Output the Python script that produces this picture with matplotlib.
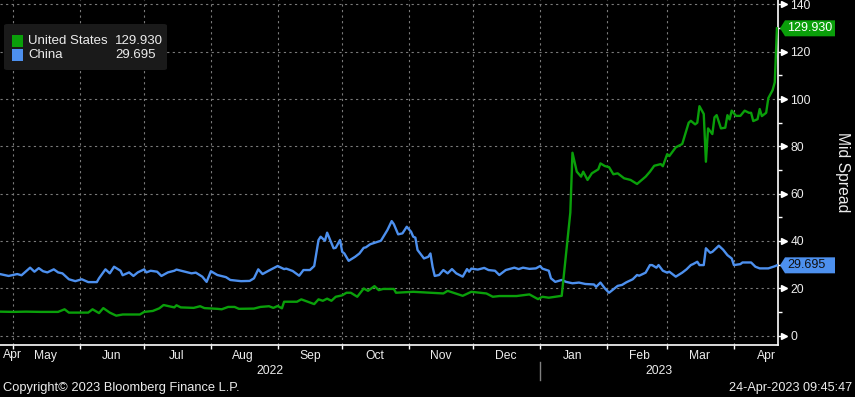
import numpy as np
import pandas as pd
import matplotlib
matplotlib.use("Agg")
import matplotlib.pyplot as plt
import matplotlib.dates as mdates
from matplotlib.ticker import MultipleLocator
from matplotlib.patches import FancyBboxPatch, Rectangle, Polygon
from matplotlib.transforms import blended_transform_factory

plt.rcParams['font.family'] = ['Liberation Sans', 'DejaVu Sans']

# data, days counted from start date
start = pd.Timestamp('2022-04-25')

us_day = [0, 6, 12, 19, 27, 30, 32, 41, 43, 46, 48, 51, 54, 57, 65, 67, 71, 74, 76, 81,
          82, 84, 90, 93, 95, 101, 103, 106, 109, 111, 118, 121, 125, 127, 129, 131, 132, 138, 140, 146,
          148, 150, 152, 154, 156, 159, 161, 163, 166, 169, 171, 174, 176, 178, 183, 184, 192, 206, 208, 215,
          219, 226, 229, 232, 240, 246, 250, 252, 255, 261, 265, 266, 268, 270, 271, 273, 275, 278, 279, 281,
          283, 285, 287, 290, 293, 296, 300, 302, 304, 307, 308, 310, 311, 314, 317, 320, 321, 323, 324, 325,
          327, 328, 329, 331, 332, 333, 335, 337, 338, 339, 340, 342, 344, 346, 348, 349, 350, 352, 353, 354,
          356, 357, 359, 360, 361]
us_val = [10.1, 10.0, 10.1, 10.0, 10.0, 11.1, 9.7, 9.7, 11.1, 9.5, 11.6, 9.7, 8.4, 8.9, 8.9, 10.0, 10.4, 11.5, 12.9, 11.9,
          12.8, 11.9, 11.7, 12.4, 11.6, 11.3, 11.1, 12.1, 12.1, 11.3, 11.4, 12.1, 12.4, 11.7, 12.5, 11.5, 14.3, 14.3, 15.3, 13.3,
          15.3, 14.7, 15.6, 14.7, 16.4, 17.0, 18.1, 18.1, 16.4, 19.9, 18.9, 20.9, 19.2, 19.7, 19.7, 18.1, 18.5, 17.8, 18.9, 16.8,
          18.5, 17.8, 16.4, 16.7, 16.7, 17.4, 15.4, 16.4, 16.0, 16.8, 52.0, 77.3, 69.3, 67.2, 69.3, 65.8, 68.6, 70.3, 72.8, 71.7,
          71.2, 68.2, 68.6, 66.5, 65.8, 64.1, 67.2, 69.3, 71.8, 72.5, 71.6, 76.7, 75.9, 79.6, 81.0, 90.0, 90.8, 89.3, 90.0, 97.0,
          93.7, 73.5, 87.6, 85.2, 92.3, 93.2, 87.6, 87.9, 93.2, 91.4, 95.1, 92.9, 92.9, 95.1, 94.2, 94.2, 90.7, 91.5, 95.8, 92.8,
          94.2, 100.4, 103.8, 107.1, 129.93]

cn_day = [0, 4, 8, 10, 14, 16, 18, 20, 22, 25, 27, 29, 32, 35, 38, 41, 45, 46, 49, 51,
          53, 56, 57, 60, 62, 64, 67, 68, 70, 73, 75, 78, 81, 82, 86, 89, 91, 94, 96, 98,
          101, 105, 107, 112, 116, 118, 120, 122, 125, 129, 132, 133, 136, 139, 141, 144, 146, 148, 149, 151,
          152, 155, 156, 158, 159, 160, 162, 165, 167, 169, 170, 172, 174, 177, 180, 182, 183, 185, 187, 189,
          191, 192, 193, 194, 197, 199, 200, 201, 202, 204, 206, 208, 210, 212, 215, 217, 218, 219, 222, 225,
          227, 230, 232, 235, 239, 241, 243, 246, 249, 251, 252, 255, 256, 258, 261, 263, 266, 269, 272, 276,
          277, 279, 281, 283, 287, 289, 291, 294, 296, 297, 300, 302, 303, 305, 306, 308, 310, 311, 314, 317,
          319, 321, 322, 324, 325, 327, 328, 330, 331, 334, 336, 338, 340, 341, 344, 345, 349, 351, 353, 357,
          360, 361]
cn_val = [26.0, 25.2, 26.0, 25.5, 28.7, 27.0, 28.5, 27.2, 26.7, 28.0, 26.7, 26.3, 23.8, 23.0, 23.8, 22.6, 22.6, 24.2, 28.0, 26.3,
          29.1, 27.4, 25.5, 26.7, 25.2, 26.7, 28.0, 26.7, 27.4, 27.0, 25.2, 26.7, 27.4, 27.9, 27.0, 26.3, 26.6, 24.9, 22.7, 27.2,
          25.6, 24.7, 23.5, 23.0, 23.1, 24.2, 28.0, 26.0, 27.5, 29.4, 28.1, 28.3, 27.3, 25.3, 27.7, 27.7, 29.4, 40.4, 41.8, 40.1,
          43.5, 36.9, 37.1, 40.4, 35.4, 34.7, 31.6, 33.3, 34.7, 37.1, 37.3, 38.6, 39.2, 40.1, 44.6, 48.4, 47.1, 42.8, 43.2, 46.0,
          43.9, 41.8, 41.4, 36.2, 32.6, 33.3, 34.7, 29.1, 25.2, 25.6, 27.7, 26.3, 28.1, 26.3, 24.9, 28.1, 27.0, 28.3, 27.9, 28.6,
          27.7, 27.4, 25.6, 27.7, 28.7, 28.1, 28.7, 28.2, 28.4, 29.4, 28.3, 27.4, 24.2, 22.7, 23.5, 22.7, 22.1, 22.4, 21.8, 21.6,
          20.6, 22.4, 20.0, 18.1, 21.0, 21.4, 22.5, 23.8, 25.6, 25.3, 26.6, 29.8, 29.8, 28.7, 29.8, 27.4, 26.6, 27.0, 24.9, 26.6,
          28.0, 29.8, 30.2, 31.2, 29.8, 29.8, 36.9, 35.0, 35.4, 38.0, 36.3, 34.0, 32.6, 29.8, 30.2, 30.9, 30.9, 29.1, 28.4, 28.4,
          29.3, 29.695]

names = ['United States', 'China']
last_vals = ['129.930', '29.695']
GREEN = '#0a9f0a'
BLUE = '#4d90ee'
TXT = '#ececec'
FS = 8.7

us_dates = start + pd.to_timedelta(us_day, unit='D')
cn_dates = start + pd.to_timedelta(cn_day, unit='D')

W, H = 855, 397
fig = plt.figure(figsize=(W / 100, H / 100), dpi=100, facecolor='black')
ax = fig.add_axes([0, 1 - 345 / H, 778 / W, 345 / H])
ax.set_facecolor('black')

ax.plot(cn_dates, cn_val, color=BLUE, lw=1.7, zorder=3)
ax.plot(us_dates, us_val, color=GREEN, lw=1.7, zorder=4)

x0 = mdates.date2num(start)
ax.set_xlim(x0, x0 + 361.5)
ax.set_ylim(-4.0, 141.9)

# x axis: month boundaries as ticks, names at mid month
ax.xaxis.set_major_locator(mdates.MonthLocator())
ax.xaxis.set_major_formatter(plt.NullFormatter())
ax.xaxis.set_minor_locator(mdates.MonthLocator(bymonthday=16))
ax.xaxis.set_minor_formatter(mdates.DateFormatter('%b'))
ax.tick_params(axis='x', which='major', length=3, color='white', width=1)
ax.tick_params(axis='x', which='minor', length=0, pad=3.5, labelsize=FS, labelcolor=TXT)

# y axis on the right
ax.yaxis.tick_right()
ax.yaxis.set_major_locator(MultipleLocator(20))
ax.yaxis.set_minor_locator(MultipleLocator(10))
ax.tick_params(axis='y', which='major', length=6, width=1, color='white', pad=3,
               labelsize=FS, labelcolor=TXT)
ax.tick_params(axis='y', which='minor', length=3, width=1, color='white')
yt = ax.get_yaxis_transform()
ax.plot([1.008] * 8, np.arange(0, 141, 20), ls='none', marker='>', ms=4.5,
        color='white', transform=yt, clip_on=False)

ax.grid(which='major', color='#7a7a7a', ls=(0, (2, 3)), lw=0.8)
for s in ['top', 'left']:
    ax.spines[s].set_visible(False)
for s in ['right', 'bottom']:
    ax.spines[s].set_color('white')
    ax.spines[s].set_linewidth(1.2)

ax.set_ylabel('Mid Spread', rotation=270, color=TXT, fontsize=11.3, labelpad=28)
ax.yaxis.set_label_position('right')

# first partial month and years
bt = blended_transform_factory(ax.transData, ax.transAxes)
ax.text(x0 + 1.2, -0.029, 'Apr', transform=bt, ha='left', va='center', fontsize=FS, color=TXT)
jan = mdates.date2num(pd.Timestamp('2023-01-01'))
xr = ax.get_xlim()
ax.text((xr[0] + jan) / 2, -0.075, '2022', transform=bt, ha='center', va='center', fontsize=FS, color=TXT)
ax.text((jan + xr[1]) / 2, -0.075, '2023', transform=bt, ha='center', va='center', fontsize=FS, color=TXT)
ax.plot([jan, jan], [-0.05, -0.1], transform=bt, color='#808080', lw=1, clip_on=False)

# end-value tags (arrow boxes right of the axis)
to_fig = ax.transData + fig.transFigure.inverted()
for val, txt, fc, tc in [(us_val[-1], last_vals[0], GREEN, 'white'), (cn_val[-1], last_vals[1], BLUE, '#101010')]:
    yf = to_fig.transform((x0, val))[1]
    hh = 8 / H
    pts = [(780 / W, yf), (785 / W, yf + hh), (835 / W, yf + hh), (835 / W, yf - hh), (785 / W, yf - hh)]
    fig.patches.append(Polygon(pts, closed=True, transform=fig.transFigure, fc=fc, ec='none', zorder=6))
    fig.text(787 / W, yf, txt, ha='left', va='center', fontsize=9, color=tc, zorder=7)

# legend box
fig.patches.append(FancyBboxPatch((4 / W, 1 - 70 / H), 163 / W, 46 / H,
                                  boxstyle='round,pad=0,rounding_size=0.004',
                                  transform=fig.transFigure, fc='#1a1a1a', ec='none', zorder=5))
for i, (nm, lv, c) in enumerate(zip(names, last_vals, [GREEN, BLUE])):
    yc = 40.7 + i * 14.6
    fig.patches.append(Rectangle((12 / W, 1 - (yc + 6) / H), 11 / W, 12 / H,
                                 transform=fig.transFigure, fc=c, ec='none', zorder=6))
    fig.text(28 / W, 1 - yc / H, nm, ha='left', va='center', fontsize=9.5, color=TXT, zorder=7)
    fig.text(115 / W, 1 - yc / H, lv, ha='left', va='center', fontsize=9.5, color=TXT, zorder=7)

fig.text(3 / W, 1 - 388 / H, 'Copyright\u00a9 2023 Bloomberg Finance L.P.', ha='left', va='center',
         fontsize=9.3, color=TXT)
fig.text(852 / W, 1 - 388 / H, '24-Apr-2023 09:45:47', ha='right', va='center',
         fontsize=9.1, color=TXT)

fig.savefig('out.png', dpi=100, facecolor='black')
